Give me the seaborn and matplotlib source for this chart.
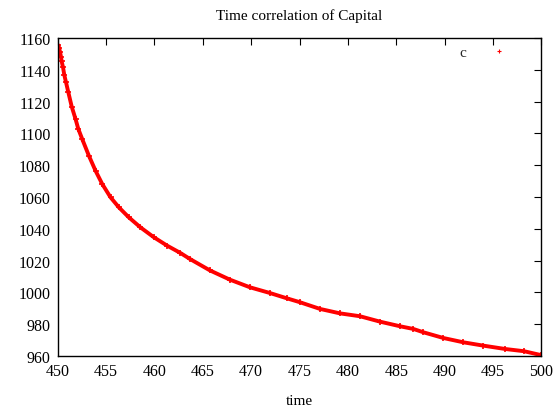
import matplotlib
matplotlib.use("Agg")
import matplotlib.pyplot as plt
from matplotlib.lines import Line2D
import seaborn as sns
import pandas as pd

time = [450.05, 450.14, 450.24, 450.34, 450.41, 450.55, 450.68, 450.86, 451.10,
        451.45, 451.84, 452.13, 452.53, 453.22, 453.91, 454.60, 455.46, 456.32,
        457.35, 458.55, 459.93, 461.31, 462.68, 463.67, 465.74, 467.80, 469.87,
        471.94, 473.67, 475.04, 477.11, 479.18, 481.24, 483.31, 485.38, 486.76,
        487.80, 489.87, 491.93, 494.00, 496.25, 498.20, 500.00]
capital = [1155.5, 1154.0, 1151.3, 1148.2, 1145.3, 1141.6, 1136.8, 1132.1, 1125.8,
           1116.8, 1109.1, 1102.8, 1096.5, 1086.0, 1076.5, 1068.2, 1059.8, 1053.5,
           1047.2, 1040.9, 1034.7, 1029.4, 1024.8, 1021.0, 1013.8, 1008.0, 1003.2,
           999.6, 996.3, 993.8, 989.6, 986.8, 985.0, 981.6, 978.7, 977.0,
           974.9, 971.3, 968.6, 966.5, 964.4, 963.0, 960.5]
series_label = "c"
title = "Time correlation of Capital"
xlabel = "time"

df = pd.DataFrame({"time": time, "capital": capital})

sns.set_theme(style="white")
plt.rcParams["font.family"] = ["Liberation Serif", "DejaVu Serif"]

fig = plt.figure(figsize=(5.58, 4.10), dpi=100)
ax = fig.add_axes([0.1034, 0.1293, 0.8670, 0.7756])

sns.lineplot(data=df, x="time", y="capital", ax=ax, color="red", linewidth=2.8,
             marker="+", markersize=5, markeredgewidth=1.2, markeredgecolor="red")

ax.set_xlim(450, 500)
ax.set_ylim(960, 1160)
ax.set_xticks(range(450, 501, 5))
ax.set_yticks(range(960, 1161, 20))
ax.tick_params(axis="both", which="both", direction="in", length=5, width=0.8,
               labelsize=11.5, colors="black", top=True, right=True,
               labeltop=False, labelright=False, pad=5)
for s in ax.spines.values():
    s.set_color("black")
    s.set_linewidth(1.0)
    s.set_visible(True)

ax.set_title(title, fontsize=11, pad=13.5, color="black")
ax.set_xlabel(xlabel, fontsize=11, labelpad=11, color="black")
ax.set_ylabel("")

handle = Line2D([], [], color="red", marker="+", linestyle="none", markersize=3,
                markeredgewidth=0.8)
ax.legend([handle], [series_label], loc="upper right", frameon=False,
          markerfirst=False, fontsize=11, handlelength=1.0, handletextpad=1.6,
          borderaxespad=0.1, bbox_to_anchor=(0.943, 1.0))

fig.savefig("out.png", dpi=100)
